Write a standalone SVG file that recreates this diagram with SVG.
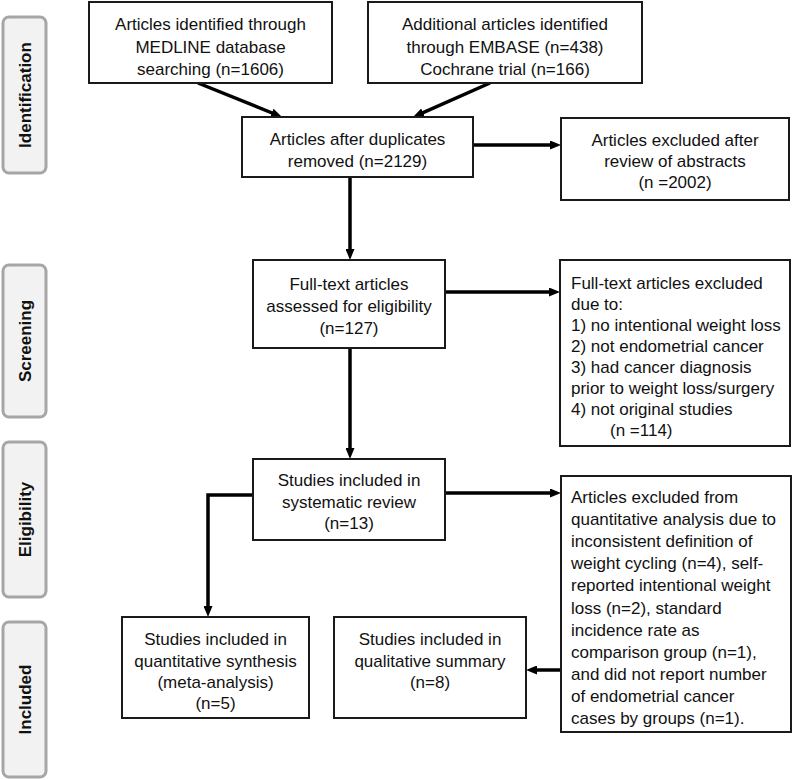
<svg xmlns="http://www.w3.org/2000/svg" width="800" height="780" viewBox="0 0 800 780">
<style>
.box{fill:#fff;stroke:#1a1a1a;stroke-width:2}
.tab{fill:#f2f2f2;stroke:#a6a6a6;stroke-width:3}
.t{font-family:"Liberation Sans",Arial,sans-serif;font-size:17px;fill:#111}
.c{text-anchor:middle}
.tt{font-family:"Liberation Sans",Arial,sans-serif;font-size:17px;font-weight:bold;fill:#111;text-anchor:middle}
.ln{fill:none;stroke:#000;stroke-width:3.5}
</style>
<defs>
<marker id="ah" markerUnits="userSpaceOnUse" markerWidth="11" markerHeight="9" viewBox="0 0 11 9" refX="3" refY="4.5" orient="auto">
<path d="M0,0 L11,4.5 L0,9 z" fill="#000"/>
</marker>
</defs>
<rect width="800" height="780" fill="#fff"/>

<g id="tab-identification">
<rect class="tab" x="3" y="17" width="43" height="156" rx="6"/>
<text class="tt" transform="translate(30.5,95) rotate(-90)">Identification</text>
</g>
<g id="tab-screening">
<rect class="tab" x="3" y="265" width="43" height="152" rx="6"/>
<text class="tt" transform="translate(30.5,341) rotate(-90)">Screening</text>
</g>
<g id="tab-eligibility">
<rect class="tab" x="3" y="442" width="43" height="155" rx="6"/>
<text class="tt" transform="translate(30.5,519.5) rotate(-90)">Eligibility</text>
</g>
<g id="tab-included">
<rect class="tab" x="3" y="622" width="43" height="155" rx="6"/>
<text class="tt" transform="translate(30.5,699.5) rotate(-90)">Included</text>
</g>

<g id="connectors">
<line class="ln" x1="198" y1="83" x2="274.6" y2="114" marker-end="url(#ah)"/>
<line class="ln" x1="490" y1="83" x2="420.3" y2="113.8" marker-end="url(#ah)"/>
<line class="ln" x1="473" y1="145" x2="553" y2="145" marker-end="url(#ah)"/>
<line class="ln" x1="350" y1="177" x2="350" y2="252" marker-end="url(#ah)"/>
<line class="ln" x1="445" y1="292" x2="552" y2="292" marker-end="url(#ah)"/>
<line class="ln" x1="350" y1="348" x2="350" y2="451" marker-end="url(#ah)"/>
<line class="ln" x1="445" y1="493" x2="553" y2="493" marker-end="url(#ah)"/>
<path class="ln" d="M253,495 H208 V609" marker-end="url(#ah)"/>
<line class="ln" x1="561" y1="670" x2="534" y2="670" marker-end="url(#ah)"/>
</g>

<g id="medline">
<rect class="box" x="89" y="2" width="243" height="81"/>
<text class="t c" x="210.5" y="30">Articles identified through</text>
<text class="t c" x="210.5" y="52.5">MEDLINE database</text>
<text class="t c" x="210.5" y="75">searching (n=1606)</text>
</g>
<g id="embase">
<rect class="box" x="368" y="2" width="274" height="81"/>
<text class="t c" x="505" y="30">Additional articles identified</text>
<text class="t c" x="505" y="52.5">through EMBASE (n=438)</text>
<text class="t c" x="505" y="75">Cochrane trial (n=166)</text>
</g>
<g id="dedup">
<rect class="box" x="242" y="117" width="231" height="60"/>
<text class="t c" x="357.5" y="145">Articles after duplicates</text>
<text class="t c" x="357.5" y="167">removed (n=2129)</text>
</g>
<g id="excluded-abstracts">
<rect class="box" x="561" y="118" width="228" height="82"/>
<text class="t c" x="675" y="146">Articles excluded after</text>
<text class="t c" x="675" y="167">review of abstracts</text>
<text class="t c" x="675" y="188">(n =2002)</text>
</g>
<g id="fulltext">
<rect class="box" x="253" y="260" width="192" height="88"/>
<text class="t c" x="349" y="290">Full-text articles</text>
<text class="t c" x="349" y="312">assessed for eligibility</text>
<text class="t c" x="349" y="334">(n=127)</text>
</g>
<g id="excluded-fulltext">
<rect class="box" x="560" y="260" width="230" height="186"/>
<text class="t" x="571" y="289">Full-text articles excluded</text>
<text class="t" x="571" y="310">due to:</text>
<text class="t" x="571" y="331">1) no intentional weight loss</text>
<text class="t" x="571" y="352">2) not endometrial cancer</text>
<text class="t" x="571" y="373">3) had cancer diagnosis</text>
<text class="t" x="571" y="394">prior to weight loss/surgery</text>
<text class="t" x="571" y="415">4) not original studies</text>
<text class="t" x="610" y="436">(n =114)</text>
</g>
<g id="systematic">
<rect class="box" x="253" y="459" width="192" height="81"/>
<text class="t c" x="349" y="486">Studies included in</text>
<text class="t c" x="349" y="508">systematic review</text>
<text class="t c" x="349" y="529">(n=13)</text>
</g>
<g id="excluded-quant">
<rect class="box" x="561" y="476" width="230" height="256"/>
<text class="t" x="571" y="503">Articles excluded from</text>
<text class="t" x="571" y="525">quantitative analysis due to</text>
<text class="t" x="571" y="547">inconsistent definition of</text>
<text class="t" x="571" y="569">weight cycling (n=4), self-</text>
<text class="t" x="571" y="591">reported intentional weight</text>
<text class="t" x="571" y="614">loss (n=2), standard</text>
<text class="t" x="571" y="636">incidence rate as</text>
<text class="t" x="571" y="658">comparison group (n=1),</text>
<text class="t" x="571" y="680">and did not report number</text>
<text class="t" x="571" y="702">of endometrial cancer</text>
<text class="t" x="571" y="724">cases by groups (n=1).</text>
</g>
<g id="meta">
<rect class="box" x="122" y="617" width="187" height="101"/>
<text class="t c" x="215.5" y="645">Studies included in</text>
<text class="t c" x="215.5" y="667">quantitative synthesis</text>
<text class="t c" x="215.5" y="688">(meta-analysis)</text>
<text class="t c" x="215.5" y="709">(n=5)</text>
</g>
<g id="qualitative">
<rect class="box" x="334" y="617" width="192" height="101"/>
<text class="t c" x="430" y="645">Studies included in</text>
<text class="t c" x="430" y="667">qualitative summary</text>
<text class="t c" x="430" y="688">(n=8)</text>
</g>
</svg>
